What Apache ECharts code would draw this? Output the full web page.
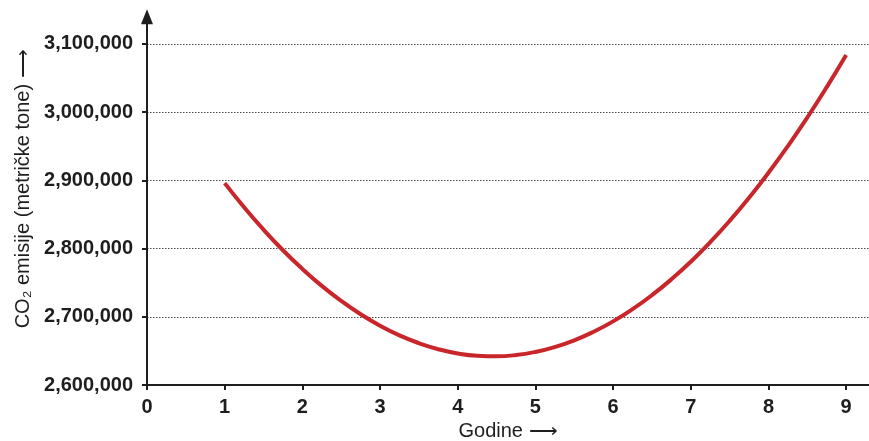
<!DOCTYPE html>
<html>
<head>
<meta charset="utf-8">
<script src="https://cdn.jsdelivr.net/npm/echarts@6/dist/echarts.min.js"></script>
<style>
  html, body { margin: 0; padding: 0; background: #fff; }
  #chart { width: 869px; height: 441px; }
</style>
</head>
<body>
<div id="chart"></div>
<script>
// Years since start and CO2 emissions (metric tonnes)
const years = [1, 1.25, 1.5, 1.75, 2, 2.25, 2.5, 2.75, 3, 3.25, 3.5, 3.75, 4, 4.25, 4.5, 4.75,
               5, 5.25, 5.5, 5.75, 6, 6.25, 6.5, 6.75, 7, 7.25, 7.5, 7.75, 8, 8.25, 8.5, 8.75, 9];
const emissions = [2896000, 2860600, 2827800, 2797600, 2770200, 2745300, 2723200, 2703700,
                   2686900, 2672700, 2661300, 2652500, 2646300, 2642900, 2642100, 2643900,
                   2648500, 2655700, 2665500, 2678100, 2693300, 2711200, 2731700, 2754900,
                   2780800, 2809400, 2840600, 2874500, 2911100, 2950300, 2992200, 3036800, 3084000];
const xTicks = [0, 1, 2, 3, 4, 5, 6, 7, 8, 9];
const yTicks = [2600000, 2700000, 2800000, 2900000, 3000000, 3100000];

const chart = echarts.init(document.getElementById('chart'), null, { renderer: 'canvas' });

const ink = '#1e1e1e';
const fmt = v => Math.round(v).toString().replace(/\B(?=(\d{3})+(?!\d))/g, ',');

chart.setOption({
  animation: false,
  backgroundColor: '#ffffff',
  grid: { left: 147, top: 16.7, width: 738, bottom: 56, containLabel: false, outerBoundsMode: 'none' },
  xAxis: {
    type: 'value',
    min: 0,
    max: 9.5,
    interval: 1,
    name: 'Godine ⟶',
    nameLocation: 'middle',
    nameGap: 35,
    nameTextStyle: { fontFamily: 'Liberation Sans', fontSize: 20, color: ink, padding: [0, 16, 0, 0] },
    axisLine: {
      show: true, onZero: false,
      lineStyle: { color: ink, width: 2 },
      symbol: ['none', 'triangle'], symbolSize: [12, 15]
    },
    axisTick: { show: true, customValues: xTicks, length: 5, lineStyle: { color: ink, width: 2 } },
    axisLabel: {
      customValues: xTicks,
      margin: 12,
      fontFamily: 'Liberation Sans', fontWeight: 'bold', fontSize: 20, color: ink
    },
    splitLine: { show: false }
  },
  yAxis: {
    type: 'value',
    min: 2600000,
    max: 3140000,
    interval: 100000,
    name: 'CO₂ emisije (metričke tone) ⟶',
    nameLocation: 'middle',
    nameGap: 113,
    nameRotate: 90,
    nameTextStyle: { fontFamily: 'Liberation Sans', fontSize: 20, color: ink, padding: [0, 0, 0, 24] },
    axisLine: {
      show: true, onZero: false,
      lineStyle: { color: ink, width: 2 },
      symbol: ['none', 'triangle'], symbolSize: [12, 15]
    },
    axisTick: { show: true, customValues: yTicks, length: 5, lineStyle: { color: ink, width: 2 } },
    axisLabel: {
      customValues: yTicks,
      margin: 14,
      formatter: fmt,
      fontFamily: 'Liberation Sans', fontWeight: 'bold', fontSize: 20, color: ink
    },
    splitLine: {
      show: true, showMinLine: false,
      lineStyle: { color: '#4a4a4a', width: 1, type: [1.5, 1.5] }
    }
  },
  series: [{
    type: 'line',
    data: years.map((x, i) => [x, emissions[i]]),
    smooth: true,
    showSymbol: false,
    lineStyle: { color: '#c8262b', width: 4 },
    z: 3
  }]
});
</script>
</body>
</html>
